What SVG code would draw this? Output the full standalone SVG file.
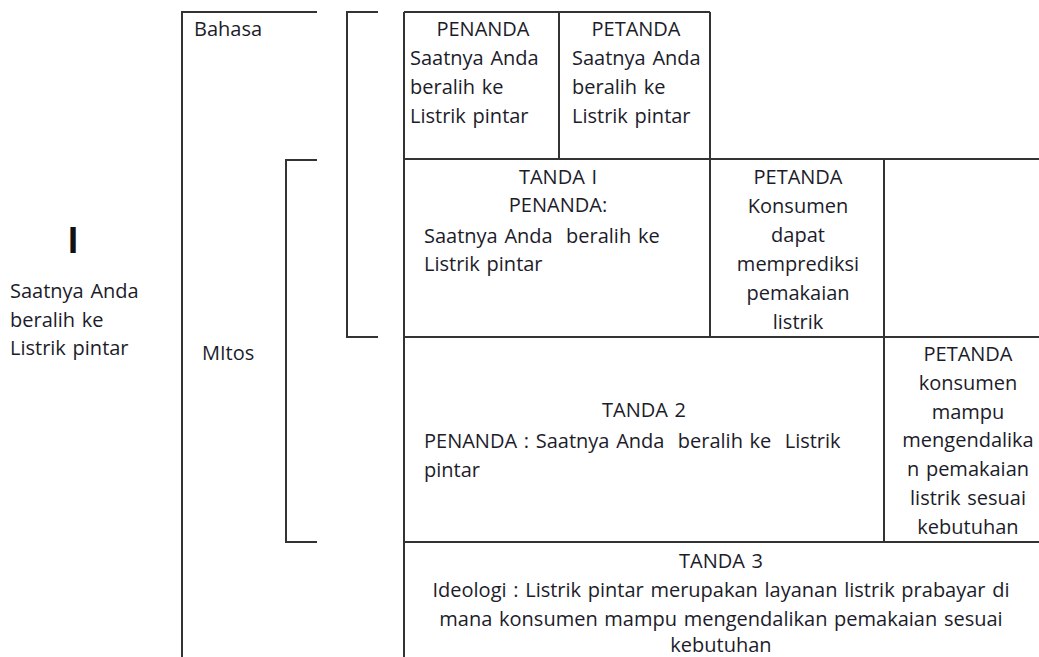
<svg xmlns="http://www.w3.org/2000/svg" width="1039" height="657" viewBox="0 0 1039 657">
<style>
  .ln { fill: none; stroke: #333; stroke-width: 2; }
  .t { font-family: "Open Sans", "Liberation Sans", sans-serif; font-size: 20px; fill: #1c1c2a; word-spacing: 1.5px; }
  .c { text-anchor: middle; }
</style>
<rect x="0" y="0" width="1039" height="657" fill="#fff"/>
<g id="connectors">
  <path class="ln" d="M317,12 H182 V657"/>
  <path class="ln" d="M378,12 H347 V337 H378"/>
  <path class="ln" d="M317,160 H286 V542 H317"/>
</g>
<g id="table-lines">
  <path class="ln" d="M404,12 H710 M404,159 H1039 M404,337 H1039 M404,542 H1039"/>
  <path class="ln" d="M404,12 V657 M559,12 V159 M710,12 V337 M884,159 V542"/>
</g>
<g id="left-label">
  <text x="73" y="253" font-family="Open Sans, Liberation Sans, sans-serif" font-size="35" font-weight="bold" fill="#111" text-anchor="middle">I</text>
  <text class="t" x="10" y="298">Saatnya Anda</text>
  <text class="t" x="10" y="327">beralih ke</text>
  <text class="t" x="10" y="355">Listrik pintar</text>
</g>
<g id="bahasa"><text class="t" x="194" y="36">Bahasa</text></g>
<g id="mitos"><text class="t" x="202" y="360">MItos</text></g>
<g id="penanda">
  <text class="t c" x="483" y="36">PENANDA</text>
  <text class="t" x="410" y="65">Saatnya Anda</text>
  <text class="t" x="410" y="94">beralih ke</text>
  <text class="t" x="410" y="123">Listrik pintar</text>
</g>
<g id="petanda">
  <text class="t c" x="636" y="36">PETANDA</text>
  <text class="t" x="572" y="65">Saatnya Anda</text>
  <text class="t" x="572" y="94">beralih ke</text>
  <text class="t" x="572" y="123">Listrik pintar</text>
</g>
<g id="tanda1">
  <text class="t c" x="558" y="184">TANDA I</text>
  <text class="t c" x="558" y="212">PENANDA:</text>
  <text class="t" x="424" y="243" xml:space="preserve">Saatnya Anda  beralih ke</text>
  <text class="t" x="424" y="271">Listrik pintar</text>
</g>
<g id="petanda1">
  <text class="t c" x="798" y="184">PETANDA</text>
  <text class="t c" x="798" y="213">Konsumen</text>
  <text class="t c" x="798" y="242">dapat</text>
  <text class="t c" x="798" y="271">memprediksi</text>
  <text class="t c" x="798" y="300">pemakaian</text>
  <text class="t c" x="798" y="329">listrik</text>
</g>
<g id="tanda2">
  <text class="t c" x="644" y="417">TANDA 2</text>
  <text class="t" x="424" y="448" xml:space="preserve">PENANDA : Saatnya Anda  beralih ke  Listrik</text>
  <text class="t" x="424" y="477">pintar</text>
</g>
<g id="petanda2">
  <text class="t c" x="968" y="361">PETANDA</text>
  <text class="t c" x="968" y="390">konsumen</text>
  <text class="t c" x="968" y="419">mampu</text>
  <text class="t c" x="968" y="447">mengendalika</text>
  <text class="t c" x="968" y="476">n pemakaian</text>
  <text class="t c" x="968" y="505">listrik sesuai</text>
  <text class="t c" x="968" y="534">kebutuhan</text>
</g>
<g id="tanda3">
  <text class="t c" x="721" y="568">TANDA 3</text>
  <text class="t c" x="721" y="597">Ideologi : Listrik pintar merupakan layanan listrik prabayar di</text>
  <text class="t c" x="721" y="626">mana konsumen mampu mengendalikan pemakaian sesuai</text>
  <text class="t c" x="721" y="652">kebutuhan</text>
</g>
</svg>
